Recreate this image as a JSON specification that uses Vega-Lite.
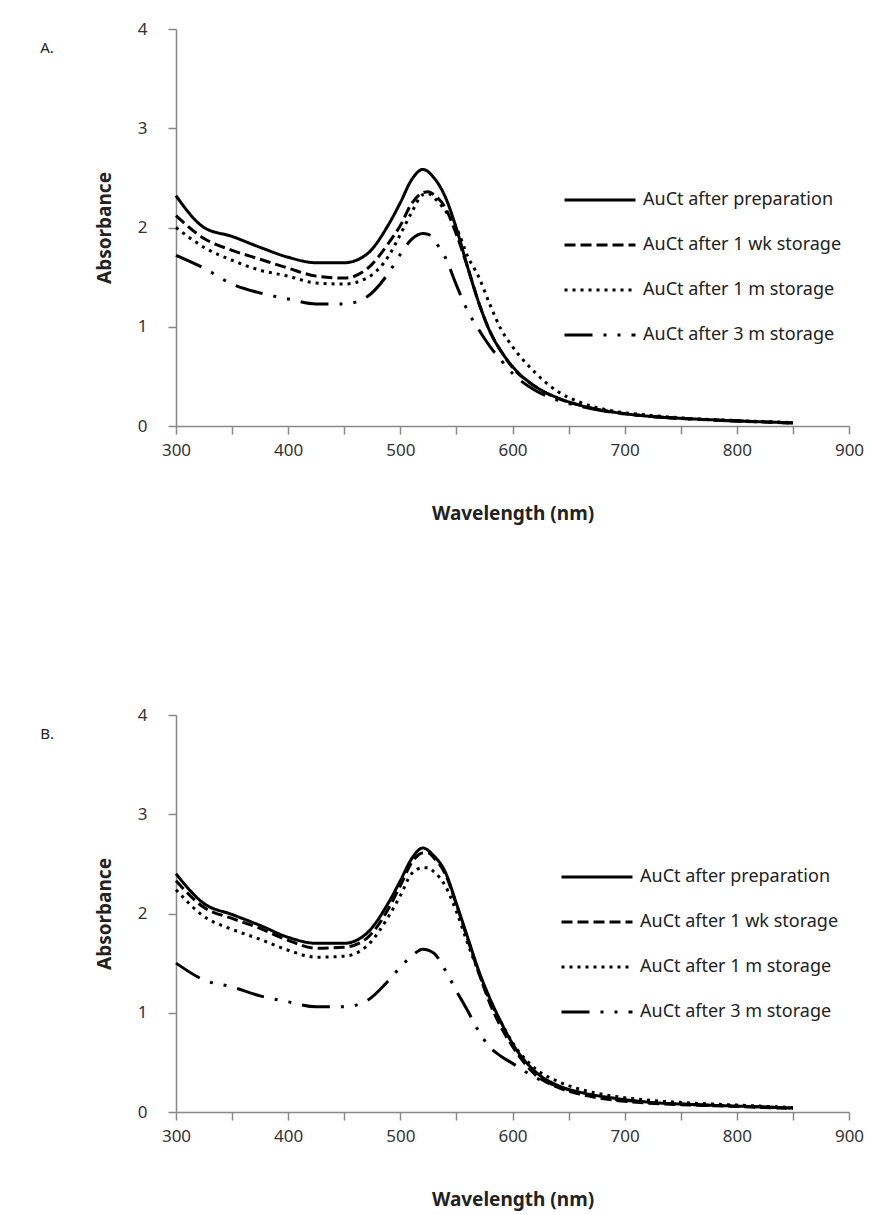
{
  "$schema": "https://vega.github.io/schema/vega-lite/v6.json",
  "padding": {"left": 40, "top": 20, "right": 5, "bottom": 5},
  "background": "white",
  "config": {
    "font": "Noto Sans",
    "view": {"stroke": null},
    "axis": {
      "domainColor": "#888888", "tickColor": "#888888", "grid": false, "labelFlush": false,
      "labelColor": "#333333", "labelFontSize": 17, "titleColor": "#222222",
      "titleFontSize": 19, "titleFontWeight": "bold", "tickSize": 8, "domainWidth": 1.5, "tickWidth": 1.5
    },
    "legend": {
      "orient": "none", "symbolType": "stroke", "symbolSize": 5041, "symbolStrokeWidth": 3,
      "symbolStrokeColor": "black", "labelFontSize": 18, "labelColor": "#222222", "clipHeight": 20,
      "rowPadding": 25, "labelOffset": 6, "padding": 0, "title": null, "labelLimit": 400
    }
  },
  "datasets": {
    "spectra": [
      {"p":"A","s":"AuCt after preparation","x":300,"y":2.32},{"p":"A","s":"AuCt after preparation","x":325,"y":2.0},{"p":"A","s":"AuCt after preparation","x":350,"y":1.91},{"p":"A","s":"AuCt after preparation","x":375,"y":1.8},{"p":"A","s":"AuCt after preparation","x":400,"y":1.7},{"p":"A","s":"AuCt after preparation","x":425,"y":1.645},{"p":"A","s":"AuCt after preparation","x":450,"y":1.645},{"p":"A","s":"AuCt after preparation","x":470,"y":1.73},{"p":"A","s":"AuCt after preparation","x":490,"y":2.04},{"p":"A","s":"AuCt after preparation","x":500,"y":2.25},{"p":"A","s":"AuCt after preparation","x":510,"y":2.48},{"p":"A","s":"AuCt after preparation","x":520,"y":2.585},{"p":"A","s":"AuCt after preparation","x":530,"y":2.5},{"p":"A","s":"AuCt after preparation","x":540,"y":2.31},{"p":"A","s":"AuCt after preparation","x":550,"y":1.99},{"p":"A","s":"AuCt after preparation","x":560,"y":1.6},{"p":"A","s":"AuCt after preparation","x":570,"y":1.24},{"p":"A","s":"AuCt after preparation","x":580,"y":0.95},{"p":"A","s":"AuCt after preparation","x":590,"y":0.75},{"p":"A","s":"AuCt after preparation","x":600,"y":0.6},{"p":"A","s":"AuCt after preparation","x":620,"y":0.4},{"p":"A","s":"AuCt after preparation","x":640,"y":0.285},{"p":"A","s":"AuCt after preparation","x":660,"y":0.21},{"p":"A","s":"AuCt after preparation","x":690,"y":0.14},{"p":"A","s":"AuCt after preparation","x":720,"y":0.1},{"p":"A","s":"AuCt after preparation","x":760,"y":0.072},{"p":"A","s":"AuCt after preparation","x":800,"y":0.052},{"p":"A","s":"AuCt after preparation","x":850,"y":0.032},

      {"p":"A","s":"AuCt after 1 wk storage","x":300,"y":2.12},{"p":"A","s":"AuCt after 1 wk storage","x":325,"y":1.89},{"p":"A","s":"AuCt after 1 wk storage","x":350,"y":1.77},{"p":"A","s":"AuCt after 1 wk storage","x":375,"y":1.68},{"p":"A","s":"AuCt after 1 wk storage","x":400,"y":1.59},{"p":"A","s":"AuCt after 1 wk storage","x":425,"y":1.51},{"p":"A","s":"AuCt after 1 wk storage","x":450,"y":1.49},{"p":"A","s":"AuCt after 1 wk storage","x":470,"y":1.58},{"p":"A","s":"AuCt after 1 wk storage","x":490,"y":1.85},{"p":"A","s":"AuCt after 1 wk storage","x":500,"y":2.02},{"p":"A","s":"AuCt after 1 wk storage","x":510,"y":2.24},{"p":"A","s":"AuCt after 1 wk storage","x":520,"y":2.35},{"p":"A","s":"AuCt after 1 wk storage","x":525,"y":2.36},{"p":"A","s":"AuCt after 1 wk storage","x":530,"y":2.33},{"p":"A","s":"AuCt after 1 wk storage","x":540,"y":2.2},{"p":"A","s":"AuCt after 1 wk storage","x":550,"y":1.93},{"p":"A","s":"AuCt after 1 wk storage","x":560,"y":1.6},{"p":"A","s":"AuCt after 1 wk storage","x":570,"y":1.24},{"p":"A","s":"AuCt after 1 wk storage","x":580,"y":0.95},{"p":"A","s":"AuCt after 1 wk storage","x":590,"y":0.75},{"p":"A","s":"AuCt after 1 wk storage","x":600,"y":0.59},{"p":"A","s":"AuCt after 1 wk storage","x":620,"y":0.4},{"p":"A","s":"AuCt after 1 wk storage","x":640,"y":0.28},{"p":"A","s":"AuCt after 1 wk storage","x":660,"y":0.21},{"p":"A","s":"AuCt after 1 wk storage","x":690,"y":0.14},{"p":"A","s":"AuCt after 1 wk storage","x":720,"y":0.1},{"p":"A","s":"AuCt after 1 wk storage","x":760,"y":0.07},{"p":"A","s":"AuCt after 1 wk storage","x":800,"y":0.05},{"p":"A","s":"AuCt after 1 wk storage","x":850,"y":0.03},

      {"p":"A","s":"AuCt after 1 m storage","x":300,"y":2.0},{"p":"A","s":"AuCt after 1 m storage","x":325,"y":1.8},{"p":"A","s":"AuCt after 1 m storage","x":350,"y":1.67},{"p":"A","s":"AuCt after 1 m storage","x":375,"y":1.57},{"p":"A","s":"AuCt after 1 m storage","x":400,"y":1.51},{"p":"A","s":"AuCt after 1 m storage","x":425,"y":1.44},{"p":"A","s":"AuCt after 1 m storage","x":450,"y":1.43},{"p":"A","s":"AuCt after 1 m storage","x":470,"y":1.49},{"p":"A","s":"AuCt after 1 m storage","x":490,"y":1.72},{"p":"A","s":"AuCt after 1 m storage","x":500,"y":1.93},{"p":"A","s":"AuCt after 1 m storage","x":510,"y":2.15},{"p":"A","s":"AuCt after 1 m storage","x":520,"y":2.33},{"p":"A","s":"AuCt after 1 m storage","x":525,"y":2.34},{"p":"A","s":"AuCt after 1 m storage","x":530,"y":2.3},{"p":"A","s":"AuCt after 1 m storage","x":540,"y":2.17},{"p":"A","s":"AuCt after 1 m storage","x":550,"y":2.0},{"p":"A","s":"AuCt after 1 m storage","x":560,"y":1.71},{"p":"A","s":"AuCt after 1 m storage","x":570,"y":1.5},{"p":"A","s":"AuCt after 1 m storage","x":580,"y":1.22},{"p":"A","s":"AuCt after 1 m storage","x":590,"y":0.97},{"p":"A","s":"AuCt after 1 m storage","x":600,"y":0.8},{"p":"A","s":"AuCt after 1 m storage","x":620,"y":0.54},{"p":"A","s":"AuCt after 1 m storage","x":640,"y":0.35},{"p":"A","s":"AuCt after 1 m storage","x":660,"y":0.24},{"p":"A","s":"AuCt after 1 m storage","x":690,"y":0.15},{"p":"A","s":"AuCt after 1 m storage","x":720,"y":0.11},{"p":"A","s":"AuCt after 1 m storage","x":760,"y":0.075},{"p":"A","s":"AuCt after 1 m storage","x":800,"y":0.055},{"p":"A","s":"AuCt after 1 m storage","x":850,"y":0.035},

      {"p":"A","s":"AuCt after 3 m storage","x":300,"y":1.72},{"p":"A","s":"AuCt after 3 m storage","x":325,"y":1.59},{"p":"A","s":"AuCt after 3 m storage","x":350,"y":1.43},{"p":"A","s":"AuCt after 3 m storage","x":375,"y":1.34},{"p":"A","s":"AuCt after 3 m storage","x":400,"y":1.28},{"p":"A","s":"AuCt after 3 m storage","x":425,"y":1.23},{"p":"A","s":"AuCt after 3 m storage","x":450,"y":1.23},{"p":"A","s":"AuCt after 3 m storage","x":470,"y":1.3},{"p":"A","s":"AuCt after 3 m storage","x":490,"y":1.55},{"p":"A","s":"AuCt after 3 m storage","x":500,"y":1.73},{"p":"A","s":"AuCt after 3 m storage","x":510,"y":1.88},{"p":"A","s":"AuCt after 3 m storage","x":520,"y":1.94},{"p":"A","s":"AuCt after 3 m storage","x":525,"y":1.93},{"p":"A","s":"AuCt after 3 m storage","x":530,"y":1.87},{"p":"A","s":"AuCt after 3 m storage","x":540,"y":1.7},{"p":"A","s":"AuCt after 3 m storage","x":550,"y":1.42},{"p":"A","s":"AuCt after 3 m storage","x":560,"y":1.16},{"p":"A","s":"AuCt after 3 m storage","x":570,"y":0.97},{"p":"A","s":"AuCt after 3 m storage","x":580,"y":0.8},{"p":"A","s":"AuCt after 3 m storage","x":590,"y":0.66},{"p":"A","s":"AuCt after 3 m storage","x":600,"y":0.53},{"p":"A","s":"AuCt after 3 m storage","x":620,"y":0.36},{"p":"A","s":"AuCt after 3 m storage","x":640,"y":0.26},{"p":"A","s":"AuCt after 3 m storage","x":660,"y":0.2},{"p":"A","s":"AuCt after 3 m storage","x":690,"y":0.135},{"p":"A","s":"AuCt after 3 m storage","x":720,"y":0.1},{"p":"A","s":"AuCt after 3 m storage","x":760,"y":0.07},{"p":"A","s":"AuCt after 3 m storage","x":800,"y":0.05},{"p":"A","s":"AuCt after 3 m storage","x":850,"y":0.03},

      {"p":"B","s":"AuCt after preparation","x":300,"y":2.4},{"p":"B","s":"AuCt after preparation","x":325,"y":2.1},{"p":"B","s":"AuCt after preparation","x":350,"y":1.99},{"p":"B","s":"AuCt after preparation","x":375,"y":1.88},{"p":"B","s":"AuCt after preparation","x":400,"y":1.76},{"p":"B","s":"AuCt after preparation","x":425,"y":1.7},{"p":"B","s":"AuCt after preparation","x":450,"y":1.7},{"p":"B","s":"AuCt after preparation","x":470,"y":1.8},{"p":"B","s":"AuCt after preparation","x":490,"y":2.12},{"p":"B","s":"AuCt after preparation","x":500,"y":2.33},{"p":"B","s":"AuCt after preparation","x":510,"y":2.55},{"p":"B","s":"AuCt after preparation","x":520,"y":2.66},{"p":"B","s":"AuCt after preparation","x":530,"y":2.58},{"p":"B","s":"AuCt after preparation","x":540,"y":2.42},{"p":"B","s":"AuCt after preparation","x":550,"y":2.1},{"p":"B","s":"AuCt after preparation","x":560,"y":1.76},{"p":"B","s":"AuCt after preparation","x":570,"y":1.42},{"p":"B","s":"AuCt after preparation","x":580,"y":1.14},{"p":"B","s":"AuCt after preparation","x":590,"y":0.9},{"p":"B","s":"AuCt after preparation","x":600,"y":0.69},{"p":"B","s":"AuCt after preparation","x":620,"y":0.41},{"p":"B","s":"AuCt after preparation","x":640,"y":0.27},{"p":"B","s":"AuCt after preparation","x":660,"y":0.2},{"p":"B","s":"AuCt after preparation","x":690,"y":0.14},{"p":"B","s":"AuCt after preparation","x":720,"y":0.1},{"p":"B","s":"AuCt after preparation","x":760,"y":0.075},{"p":"B","s":"AuCt after preparation","x":800,"y":0.06},{"p":"B","s":"AuCt after preparation","x":850,"y":0.04},

      {"p":"B","s":"AuCt after 1 wk storage","x":300,"y":2.33},{"p":"B","s":"AuCt after 1 wk storage","x":325,"y":2.06},{"p":"B","s":"AuCt after 1 wk storage","x":350,"y":1.95},{"p":"B","s":"AuCt after 1 wk storage","x":375,"y":1.85},{"p":"B","s":"AuCt after 1 wk storage","x":400,"y":1.73},{"p":"B","s":"AuCt after 1 wk storage","x":425,"y":1.65},{"p":"B","s":"AuCt after 1 wk storage","x":450,"y":1.66},{"p":"B","s":"AuCt after 1 wk storage","x":470,"y":1.75},{"p":"B","s":"AuCt after 1 wk storage","x":490,"y":2.06},{"p":"B","s":"AuCt after 1 wk storage","x":500,"y":2.28},{"p":"B","s":"AuCt after 1 wk storage","x":510,"y":2.51},{"p":"B","s":"AuCt after 1 wk storage","x":520,"y":2.61},{"p":"B","s":"AuCt after 1 wk storage","x":525,"y":2.61},{"p":"B","s":"AuCt after 1 wk storage","x":530,"y":2.56},{"p":"B","s":"AuCt after 1 wk storage","x":540,"y":2.4},{"p":"B","s":"AuCt after 1 wk storage","x":550,"y":2.09},{"p":"B","s":"AuCt after 1 wk storage","x":560,"y":1.74},{"p":"B","s":"AuCt after 1 wk storage","x":570,"y":1.4},{"p":"B","s":"AuCt after 1 wk storage","x":580,"y":1.09},{"p":"B","s":"AuCt after 1 wk storage","x":590,"y":0.85},{"p":"B","s":"AuCt after 1 wk storage","x":600,"y":0.66},{"p":"B","s":"AuCt after 1 wk storage","x":620,"y":0.38},{"p":"B","s":"AuCt after 1 wk storage","x":640,"y":0.25},{"p":"B","s":"AuCt after 1 wk storage","x":660,"y":0.18},{"p":"B","s":"AuCt after 1 wk storage","x":690,"y":0.12},{"p":"B","s":"AuCt after 1 wk storage","x":720,"y":0.09},{"p":"B","s":"AuCt after 1 wk storage","x":760,"y":0.07},{"p":"B","s":"AuCt after 1 wk storage","x":800,"y":0.055},{"p":"B","s":"AuCt after 1 wk storage","x":850,"y":0.035},

      {"p":"B","s":"AuCt after 1 m storage","x":300,"y":2.24},{"p":"B","s":"AuCt after 1 m storage","x":325,"y":1.97},{"p":"B","s":"AuCt after 1 m storage","x":350,"y":1.84},{"p":"B","s":"AuCt after 1 m storage","x":375,"y":1.74},{"p":"B","s":"AuCt after 1 m storage","x":400,"y":1.63},{"p":"B","s":"AuCt after 1 m storage","x":425,"y":1.56},{"p":"B","s":"AuCt after 1 m storage","x":450,"y":1.57},{"p":"B","s":"AuCt after 1 m storage","x":470,"y":1.67},{"p":"B","s":"AuCt after 1 m storage","x":490,"y":1.98},{"p":"B","s":"AuCt after 1 m storage","x":500,"y":2.18},{"p":"B","s":"AuCt after 1 m storage","x":510,"y":2.4},{"p":"B","s":"AuCt after 1 m storage","x":520,"y":2.46},{"p":"B","s":"AuCt after 1 m storage","x":525,"y":2.46},{"p":"B","s":"AuCt after 1 m storage","x":530,"y":2.42},{"p":"B","s":"AuCt after 1 m storage","x":540,"y":2.28},{"p":"B","s":"AuCt after 1 m storage","x":550,"y":2.02},{"p":"B","s":"AuCt after 1 m storage","x":560,"y":1.7},{"p":"B","s":"AuCt after 1 m storage","x":570,"y":1.4},{"p":"B","s":"AuCt after 1 m storage","x":580,"y":1.12},{"p":"B","s":"AuCt after 1 m storage","x":590,"y":0.9},{"p":"B","s":"AuCt after 1 m storage","x":600,"y":0.7},{"p":"B","s":"AuCt after 1 m storage","x":620,"y":0.44},{"p":"B","s":"AuCt after 1 m storage","x":640,"y":0.31},{"p":"B","s":"AuCt after 1 m storage","x":660,"y":0.23},{"p":"B","s":"AuCt after 1 m storage","x":690,"y":0.16},{"p":"B","s":"AuCt after 1 m storage","x":720,"y":0.12},{"p":"B","s":"AuCt after 1 m storage","x":760,"y":0.09},{"p":"B","s":"AuCt after 1 m storage","x":800,"y":0.07},{"p":"B","s":"AuCt after 1 m storage","x":850,"y":0.045},

      {"p":"B","s":"AuCt after 3 m storage","x":300,"y":1.5},{"p":"B","s":"AuCt after 3 m storage","x":325,"y":1.33},{"p":"B","s":"AuCt after 3 m storage","x":350,"y":1.26},{"p":"B","s":"AuCt after 3 m storage","x":375,"y":1.17},{"p":"B","s":"AuCt after 3 m storage","x":400,"y":1.11},{"p":"B","s":"AuCt after 3 m storage","x":425,"y":1.06},{"p":"B","s":"AuCt after 3 m storage","x":450,"y":1.06},{"p":"B","s":"AuCt after 3 m storage","x":470,"y":1.12},{"p":"B","s":"AuCt after 3 m storage","x":490,"y":1.33},{"p":"B","s":"AuCt after 3 m storage","x":500,"y":1.46},{"p":"B","s":"AuCt after 3 m storage","x":510,"y":1.57},{"p":"B","s":"AuCt after 3 m storage","x":520,"y":1.64},{"p":"B","s":"AuCt after 3 m storage","x":530,"y":1.6},{"p":"B","s":"AuCt after 3 m storage","x":540,"y":1.43},{"p":"B","s":"AuCt after 3 m storage","x":550,"y":1.22},{"p":"B","s":"AuCt after 3 m storage","x":560,"y":1.02},{"p":"B","s":"AuCt after 3 m storage","x":570,"y":0.81},{"p":"B","s":"AuCt after 3 m storage","x":580,"y":0.65},{"p":"B","s":"AuCt after 3 m storage","x":590,"y":0.56},{"p":"B","s":"AuCt after 3 m storage","x":600,"y":0.49},{"p":"B","s":"AuCt after 3 m storage","x":620,"y":0.35},{"p":"B","s":"AuCt after 3 m storage","x":640,"y":0.26},{"p":"B","s":"AuCt after 3 m storage","x":660,"y":0.19},{"p":"B","s":"AuCt after 3 m storage","x":690,"y":0.13},{"p":"B","s":"AuCt after 3 m storage","x":720,"y":0.1},{"p":"B","s":"AuCt after 3 m storage","x":760,"y":0.075},{"p":"B","s":"AuCt after 3 m storage","x":800,"y":0.06},{"p":"B","s":"AuCt after 3 m storage","x":850,"y":0.04}
    ]
  },
  "resolve": {"scale": {"strokeDash": "independent"}, "legend": {"strokeDash": "independent"}},
  "spacing": 183,
  "vconcat": [
    {
      "width": 673, "height": 397,
      "title": {"text": "A.", "anchor": "start", "frame": "bounds", "dx": -55, "dy": 40, "fontSize": 15, "fontWeight": "normal", "color": "#222222"},
      "data": {"name": "spectra"},
      "transform": [{"filter": "datum.p === 'A'"}],
      "mark": {"type": "line", "interpolate": "monotone", "color": "black", "strokeWidth": 3},
      "encoding": {
        "x": {"field": "x", "type": "quantitative", "title": "Wavelength (nm)",
          "scale": {"domain": [300, 900], "nice": false},
          "axis": {"values": [300,350,400,450,500,550,600,650,700,750,800,850,900], "labelExpr": "datum.value % 100 === 0 ? datum.label : ''", "labelPadding": 8, "titlePadding": 46}},
        "y": {"field": "y", "type": "quantitative", "title": "Absorbance",
          "scale": {"domain": [0, 4], "nice": false},
          "axis": {"values": [0,0.5,1,1.5,2,2.5,3,3.5,4], "format": "d", "labelExpr": "datum.value % 1 === 0 ? datum.label : ''", "labelPadding": 21, "titlePadding": 23}},
        "strokeDash": {"field": "s", "type": "nominal",
          "scale": {"domain": ["AuCt after preparation", "AuCt after 1 wk storage", "AuCt after 1 m storage", "AuCt after 3 m storage"],
            "range": [[1, 0], [11, 5], [3, 5], [28, 11, 3, 11, 3, 11]]},
          "legend": {"legendX": 387, "legendY": 161}}
      }
    },
    {
      "width": 673, "height": 397,
      "title": {"text": "B.", "anchor": "start", "frame": "bounds", "dx": -55, "dy": 40, "fontSize": 15, "fontWeight": "normal", "color": "#222222"},
      "data": {"name": "spectra"},
      "transform": [{"filter": "datum.p === 'B'"}],
      "mark": {"type": "line", "interpolate": "monotone", "color": "black", "strokeWidth": 3},
      "encoding": {
        "x": {"field": "x", "type": "quantitative", "title": "Wavelength (nm)",
          "scale": {"domain": [300, 900], "nice": false},
          "axis": {"values": [300,350,400,450,500,550,600,650,700,750,800,850,900], "labelExpr": "datum.value % 100 === 0 ? datum.label : ''", "labelPadding": 8, "titlePadding": 46}},
        "y": {"field": "y", "type": "quantitative", "title": "Absorbance",
          "scale": {"domain": [0, 4], "nice": false},
          "axis": {"values": [0,0.5,1,1.5,2,2.5,3,3.5,4], "format": "d", "labelExpr": "datum.value % 1 === 0 ? datum.label : ''", "labelPadding": 21, "titlePadding": 23}},
        "strokeDash": {"field": "s", "type": "nominal",
          "scale": {"domain": ["AuCt after preparation", "AuCt after 1 wk storage", "AuCt after 1 m storage", "AuCt after 3 m storage"],
            "range": [[1, 0], [11, 5], [3, 5], [28, 11, 3, 11, 3, 11]]},
          "legend": {"legendX": 384, "legendY": 152}}
      }
    }
  ]
}
